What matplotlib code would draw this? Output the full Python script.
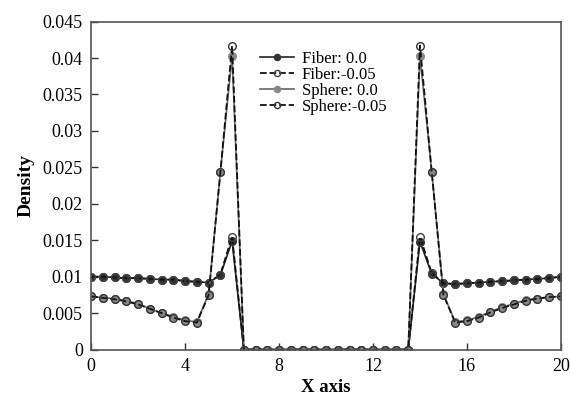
import numpy as np
import matplotlib
matplotlib.use('Agg')
import matplotlib.pyplot as plt

plt.rcParams['font.family'] = ['Liberation Serif', 'DejaVu Serif']

x = np.arange(0, 20.5, 0.5)

zeros = [0.0] * 15  # x = 6.5 .. 13.5

# fiber: flat near 0.01, small peak at x = 6 and 14
fiber_0 = ([0.0100, 0.0100, 0.0099, 0.0098, 0.0098, 0.0097, 0.0096, 0.0096, 0.0094, 0.0093,
            0.0092, 0.0102, 0.0149] + zeros +
           [0.0148, 0.0104, 0.0091, 0.0090, 0.0091, 0.0092, 0.0093, 0.0094, 0.0095, 0.0096,
            0.0097, 0.0098, 0.0100])
fiber_m05 = ([0.0100, 0.0100, 0.0099, 0.0098, 0.0098, 0.0097, 0.0096, 0.0096, 0.0094, 0.0093,
              0.0092, 0.0103, 0.0155] + zeros +
             [0.0155, 0.0105, 0.0091, 0.0090, 0.0091, 0.0092, 0.0093, 0.0094, 0.0095, 0.0096,
              0.0097, 0.0098, 0.0100])

# sphere: depleted near the wall, tall peak at x = 6 and 14
sphere_0 = ([0.0073, 0.0071, 0.0070, 0.0067, 0.0063, 0.0056, 0.0050, 0.0045, 0.0040, 0.0038,
             0.0076, 0.0243, 0.0403] + zeros +
            [0.0403, 0.0244, 0.0076, 0.0038, 0.0040, 0.0045, 0.0052, 0.0058, 0.0063, 0.0068,
             0.0070, 0.0072, 0.0073])
sphere_m05 = ([0.0073, 0.0071, 0.0069, 0.0066, 0.0062, 0.0056, 0.0050, 0.0044, 0.0039, 0.0037,
               0.0075, 0.0243, 0.0417] + zeros +
              [0.0417, 0.0244, 0.0075, 0.0037, 0.0039, 0.0044, 0.0051, 0.0057, 0.0062, 0.0067,
               0.0070, 0.0072, 0.0073])

fig = plt.figure(figsize=(5.7, 4), dpi=100)
ax = fig.add_axes([0.16, 0.126, 0.824, 0.82])

ax.plot(x, fiber_0, '-', color='#222222', lw=1.2, marker='o', ms=5.5,
        mfc='#333333', mec='#333333', label='Fiber: 0.0')
ax.plot(x, fiber_m05, '--', color='#111111', lw=1.3, marker='o', ms=5.5,
        mfc='none', mec='#444444', mew=1.0, label='Fiber:-0.05')
ax.plot(x, sphere_0, '-', color='#666666', lw=1.2, marker='o', ms=5.5,
        mfc='#888888', mec='#888888', label='Sphere: 0.0')
ax.plot(x, sphere_m05, '--', color='#111111', lw=1.3, marker='o', ms=5.5,
        mfc='none', mec='#333333', mew=1.0, label='Sphere:-0.05')

ax.set_xlim(0, 20)
ax.set_ylim(0, 0.045)
ax.set_xticks([0, 4, 8, 12, 16, 20])
ax.set_yticks(np.arange(0, 0.0451, 0.005))
ax.set_yticklabels(['0', '0.005', '0.01', '0.015', '0.02', '0.025',
                    '0.03', '0.035', '0.04', '0.045'])
ax.tick_params(direction='in', length=5, width=1, colors='#333333',
               labelsize=13, labelcolor='black', pad=6)

for s in ax.spines.values():
    s.set_color('#555555')
    s.set_linewidth(1.2)

ax.set_xlabel('X axis', fontsize=13.5, fontweight='bold', labelpad=3)
ax.set_ylabel('Density', fontsize=14, fontweight='bold', labelpad=6)

leg = ax.legend(loc='upper left', bbox_to_anchor=(0.335, 0.945), frameon=False,
                fontsize=12, handlelength=2.0, labelspacing=0.0, handletextpad=0.5,
                borderpad=0.2, markerscale=0.8)

fig.savefig('out.png', dpi=100)
